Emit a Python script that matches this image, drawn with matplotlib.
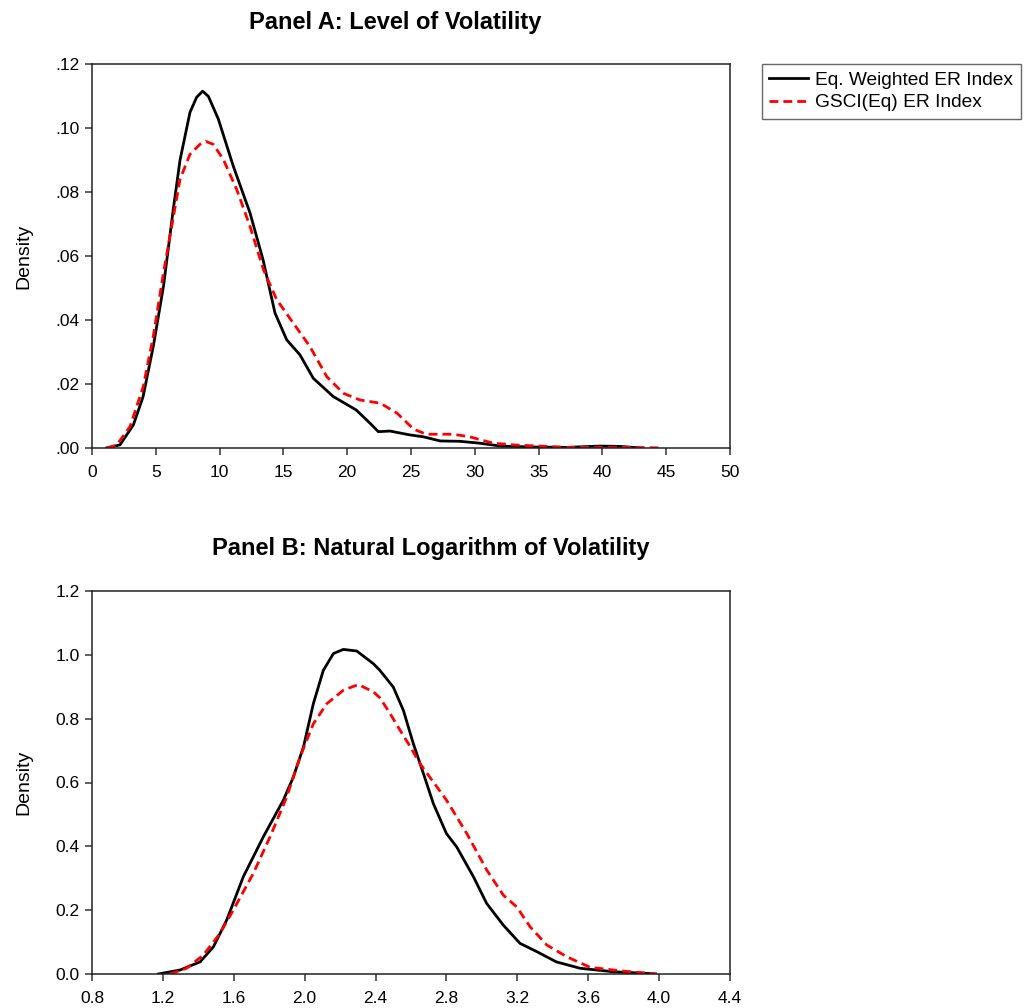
import numpy as np
import matplotlib.pyplot as plt

plt.rcParams['font.family'] = ['Liberation Sans', 'DejaVu Sans']

# Panel A: level of volatility (kernel density)
a_eq_x = [1.15, 2.2, 3.24, 4.0, 4.8, 5.6, 6.37, 6.9, 7.68, 8.2, 8.67, 9.12, 9.9,
          11.07, 12.38, 13.4, 14.34, 15.26, 16.3, 17.34, 18.9, 20.7, 21.8, 22.44,
          23.35, 24.9, 25.96, 27.3, 28.8, 30.4, 32.0, 34.6, 37.2, 39.8, 41.4, 42.7]
a_eq_y = [0.0, 0.001, 0.0072, 0.016, 0.0317, 0.0505, 0.0746, 0.090, 0.1049, 0.1096,
          0.1115, 0.1099, 0.1028, 0.0881, 0.0735, 0.0589, 0.0422, 0.0338, 0.0291,
          0.0218, 0.0161, 0.0119, 0.0077, 0.0051, 0.0053, 0.0041, 0.0035, 0.0022,
          0.0021, 0.0015, 0.0006, 0.0003, 0.0002, 0.0006, 0.0005, 0.0001]
a_gs_x = [1.15, 1.93, 2.98, 4.02, 4.8, 5.6, 6.9, 7.68, 8.46, 8.93, 9.5, 10.29, 11.34,
          12.38, 13.43, 14.47, 15.78, 17.08, 18.4, 19.7, 21.0, 22.6, 23.9, 25.2,
          26.2, 28.3, 29.6, 31.45, 33.3, 35.1, 37.2, 39.8, 42.4, 44.8]
a_gs_y = [0.0, 0.0009, 0.0067, 0.0192, 0.0349, 0.0547, 0.084, 0.0918, 0.0949, 0.0958,
          0.0949, 0.0902, 0.0808, 0.0693, 0.0558, 0.0464, 0.039, 0.0317, 0.0223,
          0.0171, 0.015, 0.0140, 0.0109, 0.0059, 0.0043, 0.0043, 0.0035, 0.0015,
          0.0009, 0.0006, 0.0002, 0.0002, 0.0002, 0.0]

# Panel B: natural logarithm of volatility
b_eq_x = [1.174, 1.297, 1.41, 1.485, 1.56, 1.654, 1.767, 1.88, 1.936, 1.993, 2.049,
          2.105, 2.162, 2.218, 2.294, 2.388, 2.425, 2.50, 2.557, 2.613, 2.67, 2.726,
          2.80, 2.858, 2.952, 3.027, 3.121, 3.215, 3.31, 3.42, 3.554, 3.742, 3.93, 3.98]
b_eq_y = [0.0, 0.0125, 0.038, 0.085, 0.169, 0.305, 0.43, 0.545, 0.617, 0.711, 0.847,
          0.951, 1.004, 1.017, 1.012, 0.972, 0.951, 0.899, 0.826, 0.722, 0.628, 0.534,
          0.44, 0.398, 0.305, 0.221, 0.153, 0.096, 0.07, 0.038, 0.018, 0.007, 0.002, 0.0]
b_gs_x = [1.24, 1.334, 1.428, 1.522, 1.597, 1.71, 1.805, 1.899, 1.974, 2.049, 2.125,
          2.218, 2.303, 2.388, 2.425, 2.482, 2.538, 2.585, 2.651, 2.80, 2.915, 3.027,
          3.121, 3.197, 3.272, 3.366, 3.479, 3.61, 3.78, 3.987]
b_gs_y = [0.0, 0.018, 0.059, 0.127, 0.2, 0.315, 0.43, 0.555, 0.68, 0.784, 0.847,
          0.889, 0.907, 0.884, 0.865, 0.816, 0.764, 0.722, 0.659, 0.545, 0.44, 0.326,
          0.247, 0.21, 0.148, 0.091, 0.054, 0.021, 0.01, 0.0]

a_xticks = [0, 5, 10, 15, 20, 25, 30, 35, 40, 45, 50]
a_yticks = [0.0, 0.02, 0.04, 0.06, 0.08, 0.10, 0.12]
a_ylabels = ['.00', '.02', '.04', '.06', '.08', '.10', '.12']
b_xticks = [0.8, 1.2, 1.6, 2.0, 2.4, 2.8, 3.2, 3.6, 4.0, 4.4]
b_yticks = [0.0, 0.2, 0.4, 0.6, 0.8, 1.0, 1.2]

fig = plt.figure(figsize=(10.28, 10.08), dpi=100)
axA = fig.add_axes([92/1028, 1-448/1008, 638/1028, 384/1008])
axB = fig.add_axes([92/1028, 1-974/1008, 638/1028, 383/1008])

lw = 2.0
dash = (0, (3.2, 1.8))
axA.plot(a_eq_x, a_eq_y, color='black', lw=lw, label='Eq. Weighted ER Index')
axA.plot(a_gs_x, a_gs_y, color='red', lw=lw, linestyle=dash, label='GSCI(Eq) ER Index')
axB.plot(b_eq_x, b_eq_y, color='black', lw=lw)
axB.plot(b_gs_x, b_gs_y, color='red', lw=lw, linestyle=dash)

axA.set_xlim(0, 50)
axA.set_ylim(0, 0.12)
axA.set_xticks(a_xticks)
axA.set_xticklabels([str(t) for t in a_xticks])
axA.set_yticks(a_yticks)
axA.set_yticklabels(a_ylabels)

axB.set_xlim(0.8, 4.4)
axB.set_ylim(0, 1.2)
axB.set_xticks(b_xticks)
axB.set_xticklabels([f'{t:.1f}' for t in b_xticks])
axB.set_yticks(b_yticks)
axB.set_yticklabels([f'{t:.1f}' for t in b_yticks])

for ax in (axA, axB):
    for s in ax.spines.values():
        s.set_linewidth(1.1)
        s.set_color('#222222')
    ax.tick_params(direction='out', length=5, width=1.1, labelsize=12.5,
                   color='#333333', pad=4)
    ax.tick_params(axis='x', pad=7.5)
    ax.set_ylabel('Density', fontsize=14)
    ax.yaxis.set_label_coords(-0.094, 0.5)

fig.text(395/1028, 1-23/1008, 'Panel A: Level of Volatility', fontsize=17,
         fontweight='bold', ha='center', va='center')
fig.text(431/1028, 1-548/1008, 'Panel B: Natural Logarithm of Volatility', fontsize=17,
         fontweight='bold', ha='center', va='center')

leg = axA.legend(loc='upper left', bbox_to_anchor=(762/1028, 1-64/1008),
                 bbox_transform=fig.transFigure, fontsize=13.8, frameon=True,
                 fancybox=False, borderaxespad=0, handlelength=2.0,
                 handletextpad=0.4, labelspacing=0.28, borderpad=0.38)
leg.get_frame().set_edgecolor('#444444')
leg.get_frame().set_linewidth(1.0)

fig.savefig('out.png', dpi=100)
